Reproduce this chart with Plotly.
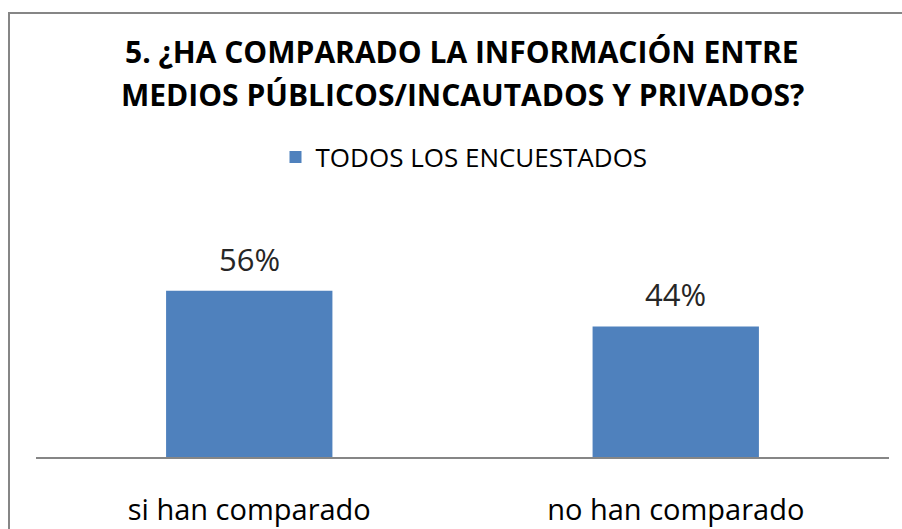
import plotly.graph_objects as go

categories = ["si han comparado", "no han comparado"]
values = [0.56, 0.44]
value_labels = ["56%", "44%"]
series_name = "TODOS LOS ENCUESTADOS"
title_lines = ["5. ¿HA COMPARADO LA INFORMACIÓN ENTRE", "MEDIOS PÚBLICOS/INCAUTADOS Y PRIVADOS?"]

W, H = 902, 529
L, R = 36, 889          # plot area x in px
T, B = 279.4, 457       # plot area y in px
FONT = "Open Sans"


def px(xp):
    return (xp - L) / (R - L)


def py(yp):
    return (B - yp) / (B - T)


fig = go.Figure(
    go.Bar(
        x=categories,
        y=values,
        name=series_name,
        marker=dict(color="#4F81BD", line=dict(width=0)),
        width=0.39,
        showlegend=True,
    )
)

annotations = [
    dict(text=f"<b>{title_lines[0]}</b>", x=px(462), y=py(52), xref="paper", yref="paper",
         showarrow=False, font=dict(family=FONT, size=30, color="#000000"), xanchor="center", yanchor="middle"),
    dict(text=f"<b>{title_lines[1]}</b>", x=px(462), y=py(95), xref="paper", yref="paper",
         showarrow=False, font=dict(family=FONT, size=30, color="#000000"), xanchor="center", yanchor="middle"),
]
for c, v, t in zip(categories, values, value_labels):
    annotations.append(dict(text=t, x=c, y=v, xref="x", yref="y", showarrow=False,
                            xanchor="center", yanchor="bottom", yshift=9,
                            font=dict(family=FONT, size=31, color="#262626")))

# chart-area border: only its top and left edges fall inside the picture
border = dict(color="#868686", width=2)
shapes = [
    dict(type="line", xref="paper", yref="paper", x0=px(8), x1=px(902), y0=py(14), y1=py(14),
         line=border, layer="below"),
    dict(type="line", xref="paper", yref="paper", x0=px(9), x1=px(9), y0=py(13), y1=py(529),
         line=border, layer="below"),
]

fig.update_layout(
    width=W, height=H,
    margin=dict(l=L, r=W - R, t=T, b=H - B, pad=0, autoexpand=False),
    paper_bgcolor="white", plot_bgcolor="white",
    annotations=annotations,
    shapes=shapes,
    showlegend=True,
    legend=dict(orientation="h", xref="container", yref="container",
                x=464 / W, y=1 - 157 / H, xanchor="center", yanchor="middle",
                font=dict(family=FONT, size=26, color="#000000"), bgcolor="rgba(0,0,0,0)"),
    xaxis=dict(showline=True, mirror=False, linecolor="#868686", linewidth=1.5, ticks="",
               showgrid=False, automargin=False,
               tickfont=dict(family=FONT, size=29, color="#000000"), ticklabelstandoff=26),
    yaxis=dict(range=[0, 0.6], visible=False, showgrid=False, zeroline=False, automargin=False),
)

# Remove the page's default body margin so the figure fills the window exactly.
fig.write_html(
    "out.html",
    config={"displayModeBar": False},
    post_script=(
        "document.body.style.margin='0';"
        "document.body.style.overflow='hidden';"
        "document.documentElement.style.overflow='hidden';"
    ),
)
